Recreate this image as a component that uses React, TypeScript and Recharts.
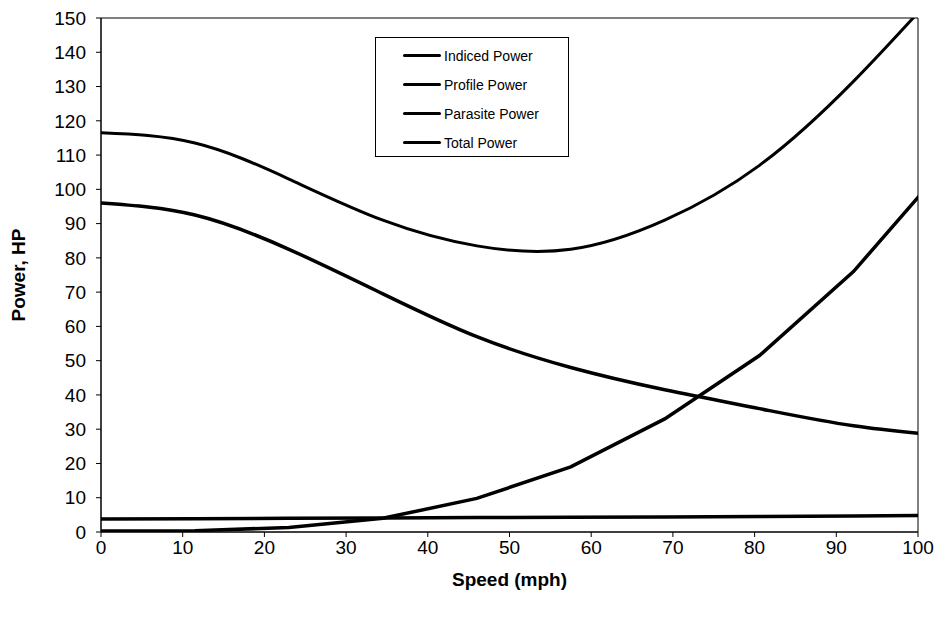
import React from "react";
import {
  Line,
  LineChart,
  ReferenceArea,
  XAxis,
  YAxis,
} from "recharts";

// speed in mph (10-knot steps, last point runs past the axis and is clipped)
const speed = [0, 11.5, 23, 34.5, 46, 57.5, 69, 80.6, 92.1, 103.6];
const inducedPower = [96, 92.5, 82.5, 69.5, 57, 48, 41.5, 36, 31, 28];
const profilePower = [3.8, 3.9, 4.0, 4.1, 4.2, 4.3, 4.4, 4.5, 4.7, 4.9];
const parasitePower = [0.3, 0.4, 1.3, 4.0, 9.8, 19, 33, 51.5, 76, 107.5];
const totalPower = [116.5, 113.5, 103, 91, 83.5, 82.5, 91, 107, 131.5, 161];

const xTicks = [0, 10, 20, 30, 40, 50, 60, 70, 80, 90, 100];
const yTicks = [0, 10, 20, 30, 40, 50, 60, 70, 80, 90, 100, 110, 120, 130, 140, 150];

const series = [
  { key: "induced", name: "Indiced Power", width: 3.5, type: "natural" },
  { key: "profile", name: "Profile Power", width: 3.5, type: "linear" },
  { key: "parasite", name: "Parasite Power", width: 3.5, type: "linear" },
  { key: "total", name: "Total Power", width: 3, type: "natural" },
] as const;

const data = speed.map((s, i) => ({
  speed: s,
  induced: inducedPower[i],
  profile: profilePower[i],
  parasite: parasitePower[i],
  total: totalPower[i],
}));

const font = "Arial, 'Liberation Sans', sans-serif";

function LegendBox() {
  return (
    <div
      style={{
        position: "absolute",
        left: 375,
        top: 37,
        boxSizing: "border-box",
        border: "1px solid #000",
        background: "#fff",
        width: 194,
        height: 120,
        padding: "3px 0 0 0",
        fontFamily: font,
        fontSize: 14,
        color: "#000",
      }}
    >
      {series.map((s) => (
        <div
          key={s.key}
          style={{ display: "flex", alignItems: "center", height: 29 }}
        >
          <span
            style={{
              display: "inline-block",
              width: 38,
              height: s.width,
              background: "#000",
              marginLeft: 27,
              marginRight: 3,
              borderRadius: 2,
            }}
          />
          {s.name}
        </div>
      ))}
    </div>
  );
}

export default function App() {
  return (
    <div
      style={{
        position: "fixed",
        left: 0,
        top: 0,
        width: 943,
        height: 622,
        background: "#fff",
      }}
    >
      <LineChart
        width={943}
        height={622}
        data={data}
        margin={{ top: 18, right: 25, bottom: 0, left: 5 }}
      >
        <ReferenceArea
          x1={0}
          x2={100}
          y1={0}
          y2={150}
          fill="none"
          stroke="#000"
          strokeWidth={1}
        />
        <XAxis
          dataKey="speed"
          type="number"
          domain={[0, 100]}
          ticks={xTicks}
          allowDataOverflow
          height={90}
          stroke="#000"
          tickSize={5}
          tickMargin={4}
          tick={{ fill: "#000", fontSize: 19, fontFamily: font }}
          label={{
            value: "Speed (mph)",
            position: "insideBottom",
            offset: 36,
            style: {
              fill: "#000",
              fontSize: 19,
              fontWeight: "bold",
              fontFamily: font,
            },
          }}
        />
        <YAxis
          type="number"
          domain={[0, 150]}
          ticks={yTicks}
          allowDataOverflow
          width={96}
          stroke="#000"
          tickSize={5}
          tickMargin={10}
          tick={{ fill: "#000", fontSize: 19, fontFamily: font }}
          label={{
            value: "Power, HP",
            angle: -90,
            position: "insideLeft",
            offset: 13,
            style: {
              fill: "#000",
              fontSize: 19,
              fontWeight: "bold",
              fontFamily: font,
              textAnchor: "middle",
            },
          }}
        />
        {series.map((s) => (
          <Line
            key={s.key}
            dataKey={s.key}
            name={s.name}
            type={s.type}
            stroke="#000"
            strokeWidth={s.width}
            dot={false}
            activeDot={false}
            isAnimationActive={false}
          />
        ))}
      </LineChart>
      <LegendBox />
    </div>
  );
}
